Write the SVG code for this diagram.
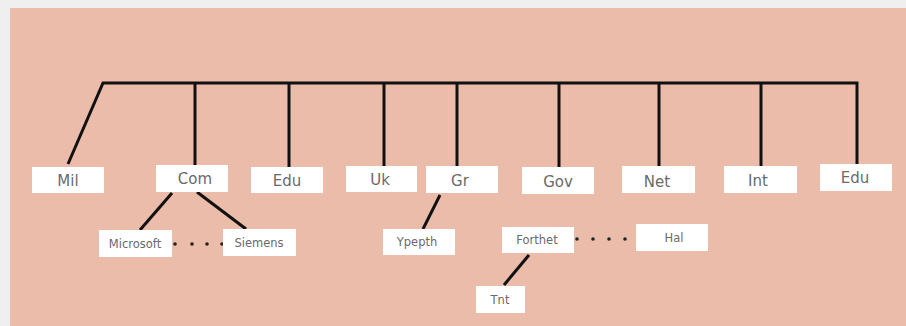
<svg xmlns="http://www.w3.org/2000/svg" width="906" height="326" viewBox="0 0 906 326">
<style>
.box{fill:#ffffff;}
.t1{font-family:"DejaVu Sans",sans-serif;font-size:15px;fill:#6a6a6a;text-anchor:middle;}
.t2{font-family:"DejaVu Sans",sans-serif;font-size:11.5px;fill:#6a6a6a;text-anchor:middle;}
.ln{stroke:#111;stroke-width:3;fill:none;stroke-linecap:butt;stroke-linejoin:miter;}
.dot{fill:#222;}
</style>
<rect x="0" y="0" width="906" height="326" fill="#efefef"/>
<rect x="10" y="8" width="896" height="318" fill="#ecbcaa"/>
<g id="connectors">
<polyline class="ln" points="68,164 103,83 857,83 857,164"/>
<line class="ln" x1="195" y1="83" x2="195" y2="165"/>
<line class="ln" x1="289" y1="83" x2="289" y2="167"/>
<line class="ln" x1="384" y1="83" x2="384" y2="166"/>
<line class="ln" x1="457" y1="83" x2="457" y2="166"/>
<line class="ln" x1="559" y1="83" x2="559" y2="167"/>
<line class="ln" x1="659" y1="83" x2="659" y2="166"/>
<line class="ln" x1="761" y1="83" x2="761" y2="166"/>
<line class="ln" x1="172" y1="193" x2="140" y2="230"/>
<line class="ln" x1="197" y1="192" x2="246" y2="229"/>
<line class="ln" x1="440" y1="195" x2="423" y2="229"/>
<line class="ln" x1="529" y1="255" x2="504" y2="285"/>
<circle class="dot" cx="175" cy="244" r="1.8"/>
<circle class="dot" cx="192" cy="244" r="1.8"/>
<circle class="dot" cx="207" cy="244" r="1.8"/>
<circle class="dot" cx="222" cy="244" r="1.8"/>
<circle class="dot" cx="577" cy="239" r="1.8"/>
<circle class="dot" cx="593" cy="239" r="1.8"/>
<circle class="dot" cx="609" cy="239" r="1.8"/>
<circle class="dot" cx="625" cy="239" r="1.8"/>
</g>
<g id="mil"><rect class="box" x="32" y="167" width="72" height="26"/><text class="t1" x="68" y="186">Mil</text></g>
<g id="com"><rect class="box" x="156" y="165" width="72" height="27"/><text class="t1" x="195" y="184">Com</text></g>
<g id="edu1"><rect class="box" x="251" y="167" width="72" height="26"/><text class="t1" x="287" y="186">Edu</text></g>
<g id="uk"><rect class="box" x="346" y="166" width="71" height="26"/><text class="t1" x="380" y="185">Uk</text></g>
<g id="gr"><rect class="box" x="426" y="166" width="72" height="27"/><text class="t1" x="460" y="186">Gr</text></g>
<g id="gov"><rect class="box" x="522" y="167" width="72" height="27"/><text class="t1" x="558" y="187">Gov</text></g>
<g id="net"><rect class="box" x="622" y="166" width="73" height="27"/><text class="t1" x="657" y="187">Net</text></g>
<g id="int"><rect class="box" x="724" y="166" width="73" height="27"/><text class="t1" x="758" y="186">Int</text></g>
<g id="edu2"><rect class="box" x="820" y="164" width="72" height="27"/><text class="t1" x="855" y="183">Edu</text></g>
<g id="microsoft"><rect class="box" x="99" y="230" width="73" height="27"/><text class="t2" x="135" y="248">Microsoft</text></g>
<g id="siemens"><rect class="box" x="223" y="229" width="73" height="27"/><text class="t2" x="259" y="247">Siemens</text></g>
<g id="ypepth"><rect class="box" x="383" y="229" width="72" height="26"/><text class="t2" x="417" y="246">Ypepth</text></g>
<g id="forthet"><rect class="box" x="502" y="227" width="72" height="26"/><text class="t2" x="537" y="244">Forthet</text></g>
<g id="hal"><rect class="box" x="636" y="224" width="72" height="27"/><text class="t2" x="674" y="242">Hal</text></g>
<g id="tnt"><rect class="box" x="476" y="286" width="49" height="27"/><text class="t2" x="500" y="304">Tnt</text></g>
</svg>
